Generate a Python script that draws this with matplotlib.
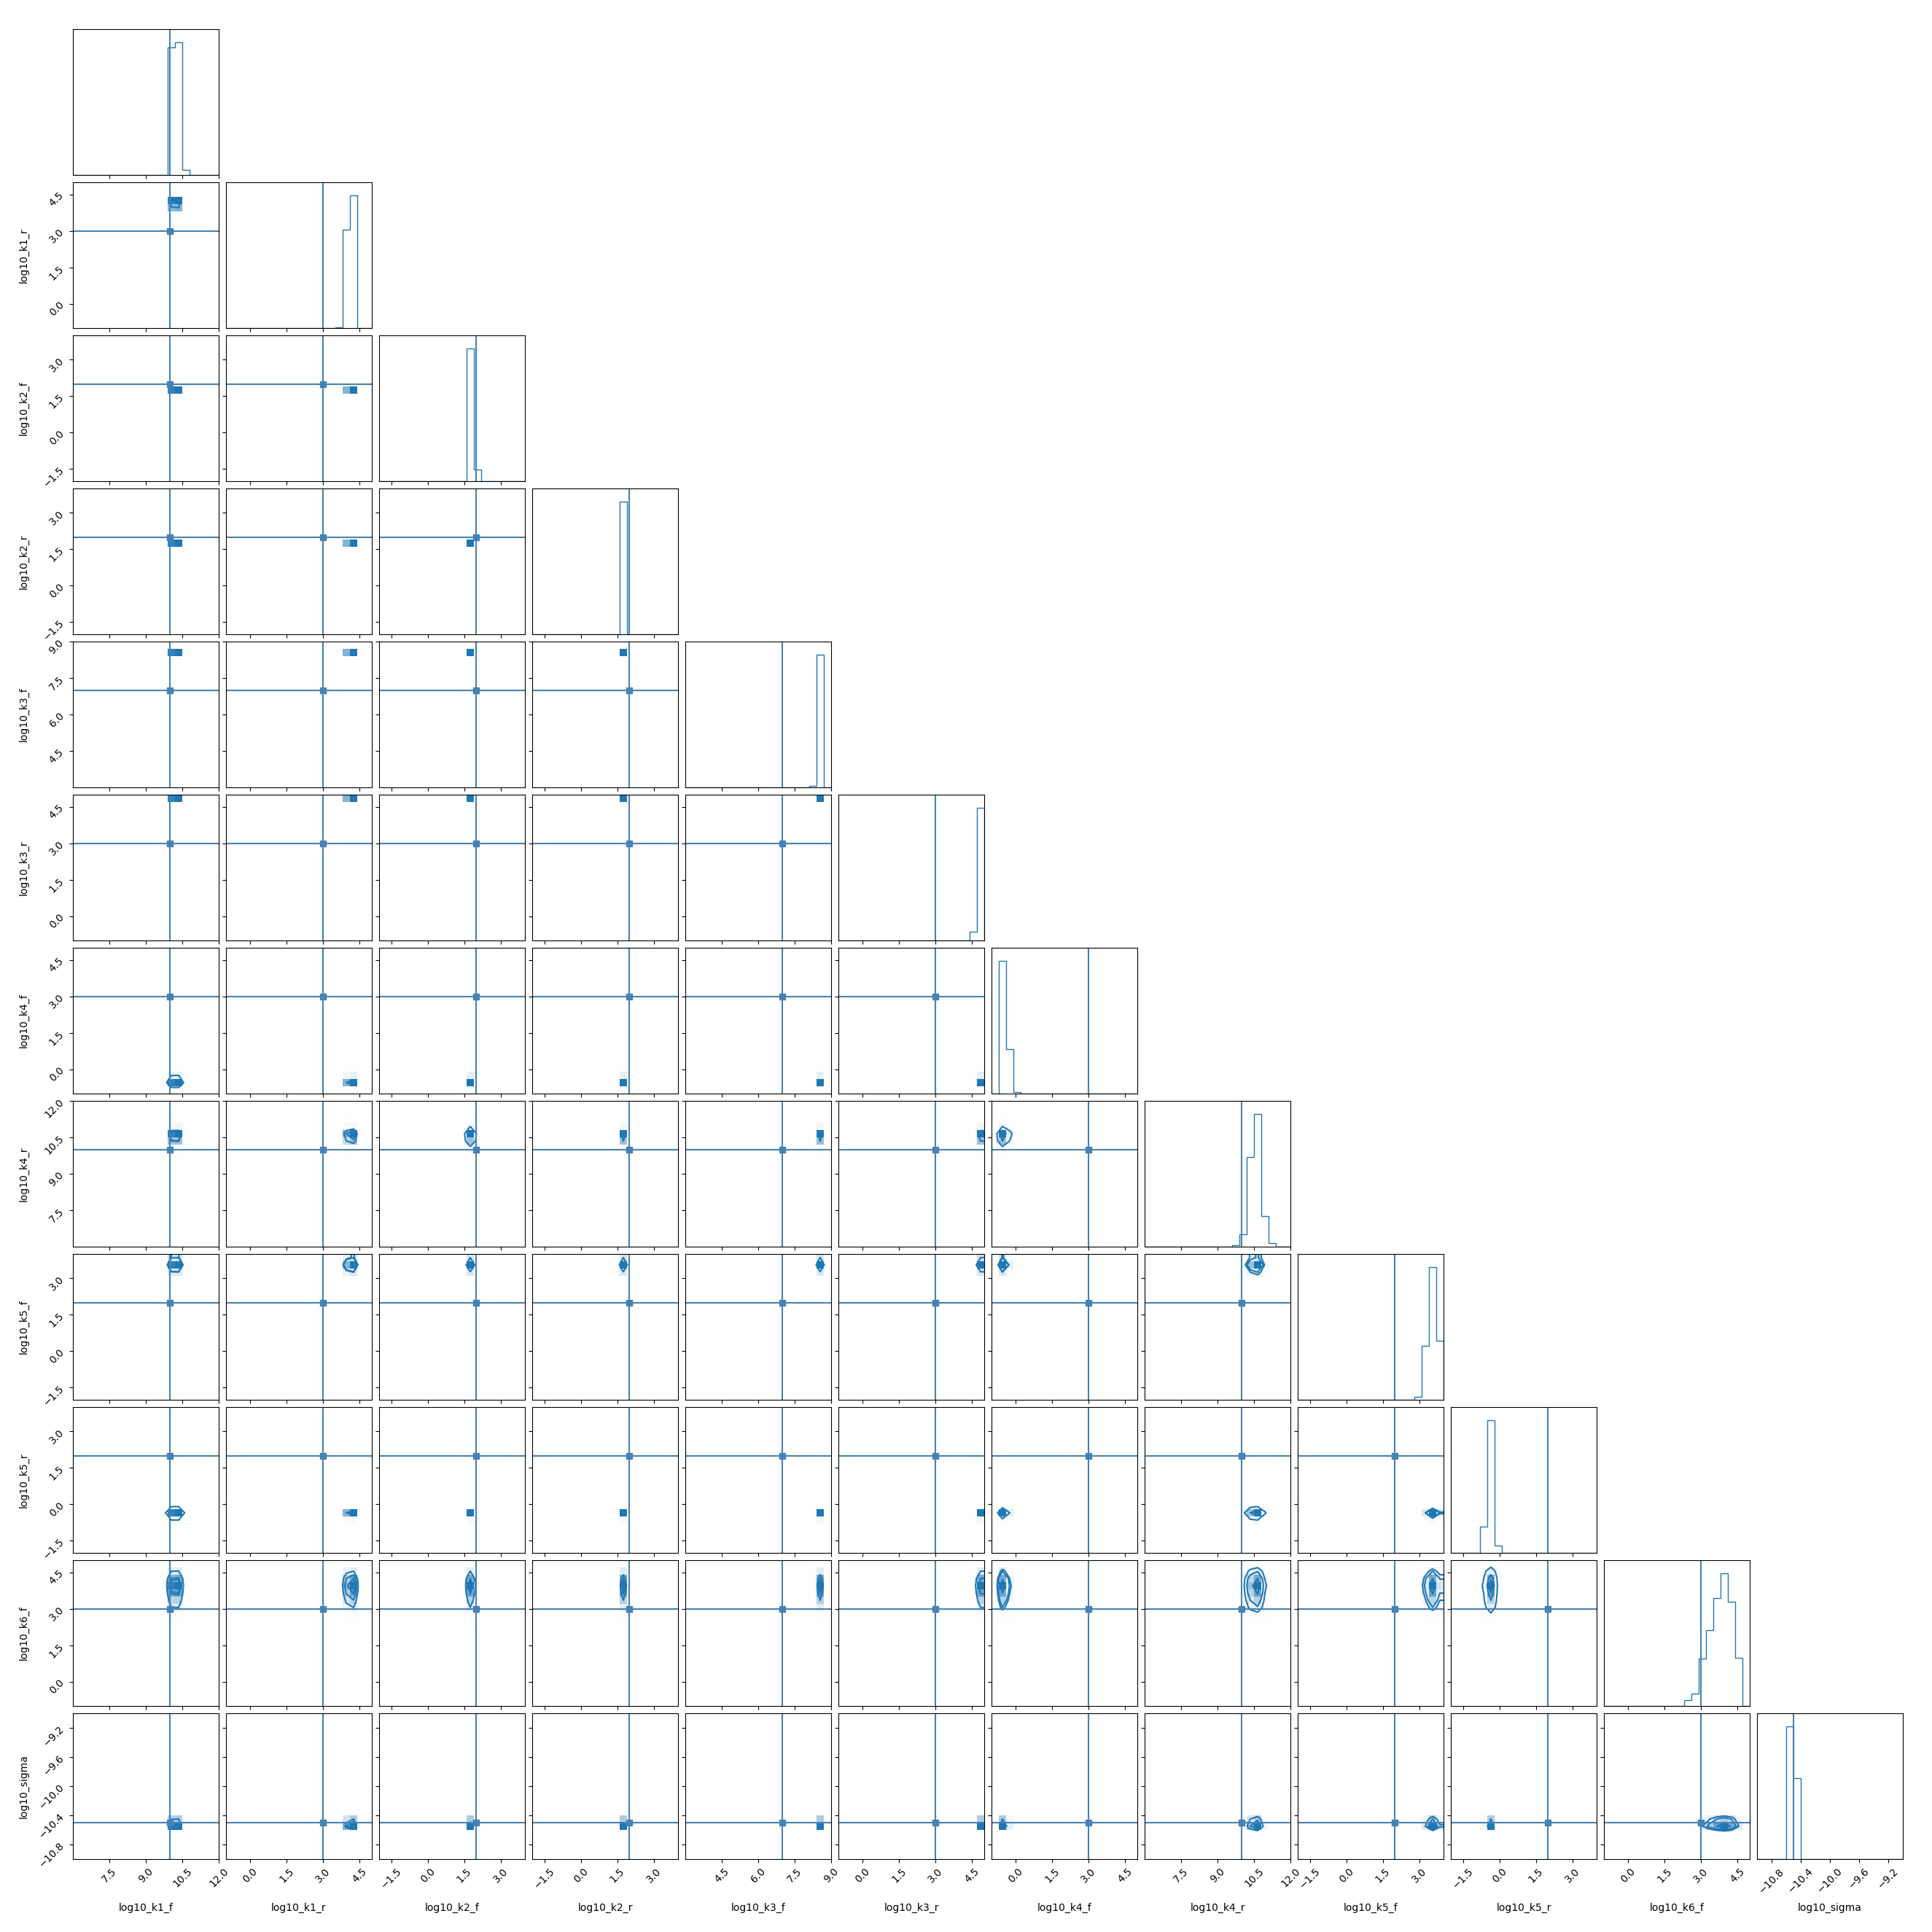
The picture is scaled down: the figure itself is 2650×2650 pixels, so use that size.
import numpy as np
import matplotlib
matplotlib.use("Agg")
import matplotlib.pyplot as plt
from matplotlib.colors import LinearSegmentedColormap, to_rgba
from matplotlib.ticker import MaxNLocator, NullLocator

# parameter names, true values and plot ranges
labels = ["log10_k1_f", "log10_k1_r", "log10_k2_f", "log10_k2_r",
          "log10_k3_f", "log10_k3_r", "log10_k4_f", "log10_k4_r",
          "log10_k5_f", "log10_k5_r", "log10_k6_f", "log10_sigma"]
truths = [10.0, 3.0, 2.0, 2.0, 7.0, 3.0, 3.0, 10.0, 2.0, 2.0, 3.0, -10.5]
range_lo = [6.0, -1.0, -2.0, -2.0, 3.0, -1.0, -1.0, 6.0, -2.0, -2.0, -1.0, -11.0]
range_hi = [12.0, 5.0, 4.0, 4.0, 9.0, 5.0, 5.0, 12.0, 4.0, 4.0, 5.0, -9.0]

# marginal histograms, 20 bins over each range, height relative to the peak bin
h_k1_f = [0, 0, 0, 0, 0, 0, 0, 0, 0, 0, 0, 0, 0, 0.96, 1.0, 0.036, 0, 0, 0, 0]
h_k1_r = [0, 0, 0, 0, 0, 0, 0, 0, 0, 0, 0, 0, 0, 0, 0, 0.005, 0.74, 1.0, 0, 0]
h_k2_f = [0, 0, 0, 0, 0, 0, 0, 0, 0, 0, 0, 0, 1.0, 0.086, 0, 0, 0, 0, 0, 0]
h_k2_r = [0, 0, 0, 0, 0, 0, 0, 0, 0, 0, 0, 0, 1.0, 0, 0, 0, 0, 0, 0, 0]
h_k3_f = [0, 0, 0, 0, 0, 0, 0, 0, 0, 0, 0, 0, 0, 0, 0, 0, 0, 0.011, 1.0, 0]
h_k3_r = [0, 0, 0, 0, 0, 0, 0, 0, 0, 0, 0, 0, 0, 0, 0, 0, 0, 0, 0.064, 1.0]
h_k4_f = [0, 1.0, 0.334, 0.011, 0, 0, 0, 0, 0, 0, 0, 0, 0, 0, 0, 0, 0, 0, 0, 0]
h_k4_r = [0, 0, 0, 0, 0, 0, 0, 0, 0, 0, 0, 0, 0.009, 0.095, 0.675, 1.0, 0.23, 0.026, 0, 0]
h_k5_f = [0, 0, 0, 0, 0, 0, 0, 0, 0, 0, 0, 0, 0, 0, 0, 0, 0.02, 0.407, 1.0, 0.445]
h_k5_r = [0, 0, 0, 0, 0.198, 1.0, 0.053, 0, 0, 0, 0, 0, 0, 0, 0, 0, 0, 0, 0, 0]
h_k6_f = [0, 0, 0, 0, 0, 0, 0, 0, 0, 0, 0, 0.044, 0.092, 0.356, 0.574, 0.816, 1.0, 0.787, 0.361, 0]
h_sigma = [0, 0, 0, 0, 1.0, 0.609, 0, 0, 0, 0, 0, 0, 0, 0, 0, 0, 0, 0, 0, 0]

hists = [h_k1_f, h_k1_r, h_k2_f, h_k2_r, h_k3_f, h_k3_r,
         h_k4_f, h_k4_r, h_k5_f, h_k5_r, h_k6_f, h_sigma]

color = "C0"
truth_color = "#4682b4"
n_bins = 20


def bin_edges(i):
    return np.linspace(range_lo[i], range_hi[i], n_bins + 1)


def hist2d(ax, hx, hy, ex, ey):
    # 2d histogram built from the two marginals, drawn the way corner does it
    H = np.outer(hx, hy)
    levels = 1.0 - np.exp(-0.5 * np.arange(0.5, 2.1, 0.5) ** 2)
    Hflat = H.flatten()
    Hflat = Hflat[np.argsort(Hflat)[::-1]]
    sm = np.cumsum(Hflat)
    sm /= sm[-1]
    V = np.empty(len(levels))
    for k, v0 in enumerate(levels):
        try:
            V[k] = Hflat[sm <= v0][-1]
        except IndexError:
            V[k] = Hflat[0]
    V.sort()
    m = np.diff(V) == 0
    while np.any(m):
        V[np.where(m)[0][0]] *= 1.0 - 1e-4
        m = np.diff(V) == 0
    V.sort()

    X1 = 0.5 * (ex[1:] + ex[:-1])
    Y1 = 0.5 * (ey[1:] + ey[:-1])
    H2 = H.min() + np.zeros((H.shape[0] + 4, H.shape[1] + 4))
    H2[2:-2, 2:-2] = H
    H2[2:-2, 1] = H[:, 0]
    H2[2:-2, -2] = H[:, -1]
    H2[1, 2:-2] = H[0]
    H2[-2, 2:-2] = H[-1]
    H2[1, 1] = H[0, 0]
    H2[1, -2] = H[0, -1]
    H2[-2, 1] = H[-1, 0]
    H2[-2, -2] = H[-1, -1]
    X2 = np.concatenate([X1[0] + np.array([-2, -1]) * np.diff(X1[:2]), X1,
                         X1[-1] + np.array([1, 2]) * np.diff(X1[-2:])])
    Y2 = np.concatenate([Y1[0] + np.array([-2, -1]) * np.diff(Y1[:2]), Y1,
                         Y1[-1] + np.array([1, 2]) * np.diff(Y1[-2:])])

    density_cmap = LinearSegmentedColormap.from_list(
        "density_cmap", [color, to_rgba("white", alpha=0.0)])
    base_cmap = LinearSegmentedColormap.from_list("base_cmap", ["white", "white"], N=2)

    if V.min() < H.max():
        ax.contourf(X2, Y2, H2.T, [V.min(), H.max()], cmap=base_cmap, antialiased=False)
    ax.pcolormesh(ex, ey, H.max() - H.T, cmap=density_cmap, shading="flat")
    ax.contour(X2, Y2, H2.T, V, colors=color, linewidths=1.5)


K = len(labels)
factor = 2.0
lbdim = 0.5 * factor
trdim = 0.2 * factor
whspace = 0.05
plotdim = factor * K + factor * (K - 1.0) * whspace
dim = lbdim + plotdim + trdim

fig, axes = plt.subplots(K, K, figsize=(dim, dim), dpi=100)
lb = lbdim / dim
tr = (lbdim + plotdim) / dim
fig.subplots_adjust(left=lb, bottom=lb, right=tr, top=tr, wspace=whspace, hspace=whspace)

for i in range(K):
    ei = bin_edges(i)
    for j in range(K):
        ax = axes[i, j]
        if j > i:
            ax.set_frame_on(False)
            ax.set_xticks([])
            ax.set_yticks([])
            continue
        if i == j:
            centers = 0.5 * (ei[1:] + ei[:-1])
            ax.hist(centers, bins=ei, weights=hists[i], histtype="step", color=color)
            ax.axvline(truths[i], color=truth_color, linewidth=1.5)
            ax.set_xlim(range_lo[i], range_hi[i])
            ax.set_ylim(0, 1.1 * max(hists[i]))
            ax.xaxis.set_major_locator(MaxNLocator(5, prune="lower"))
            ax.yaxis.set_major_locator(NullLocator())
        else:
            ej = bin_edges(j)
            hist2d(ax, hists[j], hists[i], ej, ei)
            ax.axvline(truths[j], color=truth_color, linewidth=1.5)
            ax.axhline(truths[i], color=truth_color, linewidth=1.5)
            ax.plot(truths[j], truths[i], "s", color=truth_color)
            ax.set_xlim(range_lo[j], range_hi[j])
            ax.set_ylim(range_lo[i], range_hi[i])
            ax.xaxis.set_major_locator(MaxNLocator(5, prune="lower"))
            ax.yaxis.set_major_locator(MaxNLocator(5, prune="lower"))
            if j > 0:
                ax.set_yticklabels([])
            else:
                ax.set_ylabel(labels[i])
                ax.yaxis.set_label_coords(-0.3, 0.5)
                ax.tick_params(axis="y", labelrotation=45)

        if i < K - 1:
            ax.set_xticklabels([])
        else:
            ax.set_xlabel(labels[j])
            ax.xaxis.set_label_coords(0.5, -0.3)
            ax.tick_params(axis="x", labelrotation=45)

fig.savefig("out.png", dpi=100)
